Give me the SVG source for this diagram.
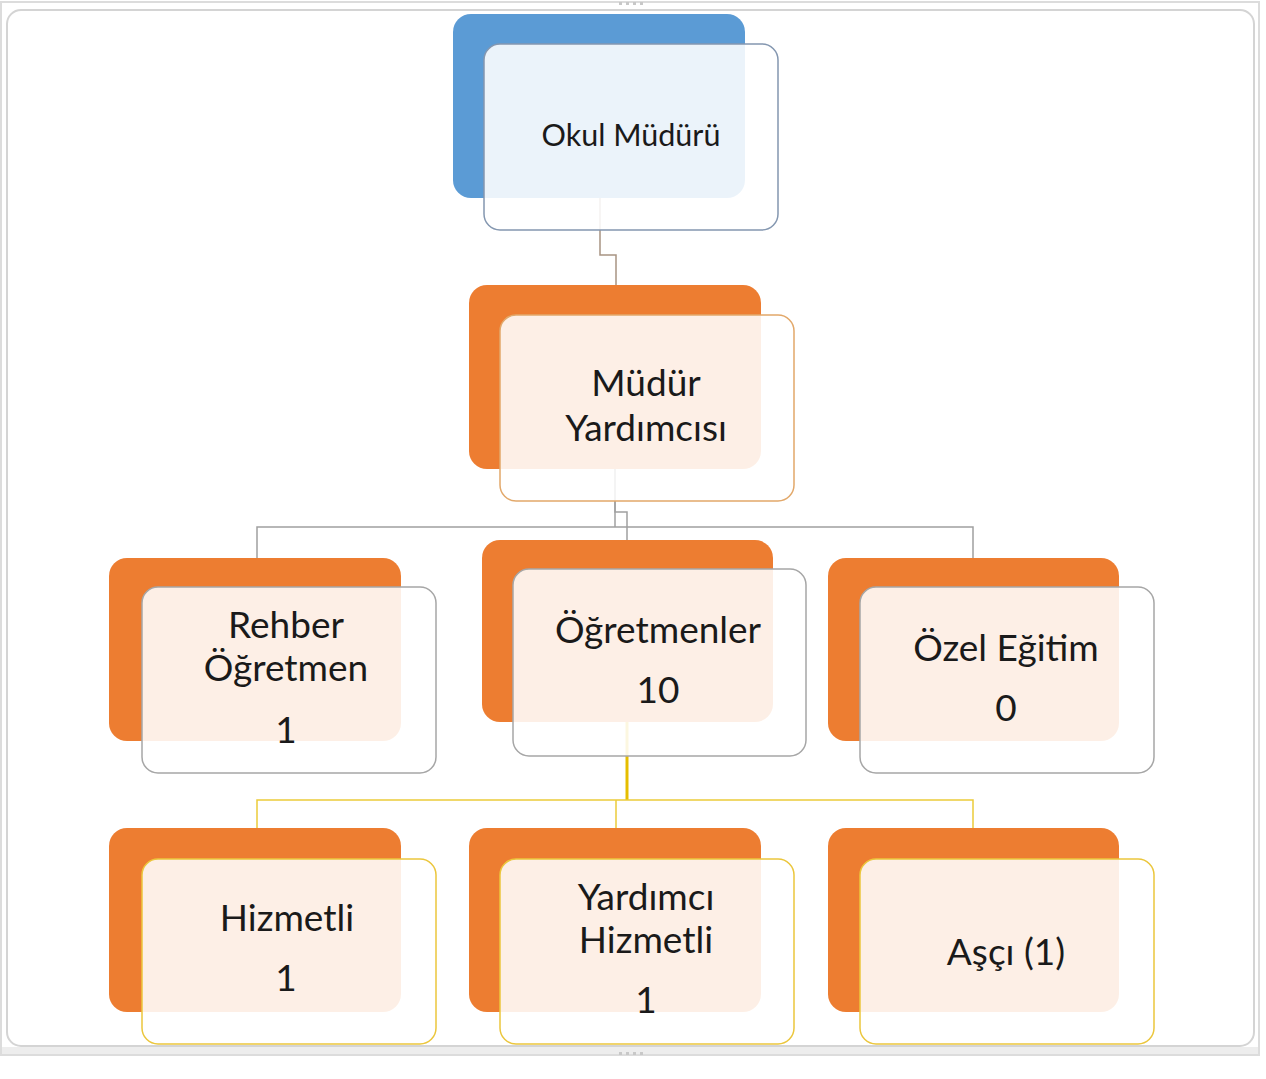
<svg xmlns="http://www.w3.org/2000/svg" width="1266" height="1079" viewBox="0 0 1266 1079">
<style>
.back-o{fill:#ED7D31}
.back-b{fill:#5B9BD5}
.front{fill:#FFFFFF;fill-opacity:0.88;stroke-width:1.5}
.f-blue{stroke:#8497B0}
.f-orange{stroke:#E2A86A}
.f-gray{stroke:#A6A6A6}
.f-yellow{stroke:#EBC63C}
text{font-family:Lato,"Open Sans","Liberation Sans",sans-serif;fill:#1A1A1A;text-anchor:middle}
.t1{font-size:30.5px}
.t2{font-size:37px}
.c-gray{fill:none;stroke:#A0A0A0;stroke-width:1.5}
.c-brown{fill:none;stroke:#A89482;stroke-width:1.5}
.c-yel{fill:none;stroke:#EBCB3A;stroke-width:1.5}
.c-yel2{fill:none;stroke:#E6BE00;stroke-width:3}
</style>
<rect x="0" y="0" width="1266" height="1079" fill="#FFFFFF"/>
<g id="frame">
<rect x="1" y="2" width="1258" height="1053" fill="none" stroke="#DCDCDC" stroke-width="2"/>
<rect x="7" y="10" width="1247" height="1036" rx="14" fill="#FFFFFF" stroke="#D4D4D4" stroke-width="2"/>
<rect x="2" y="1047" width="1256" height="7" fill="#EDEDED"/>
<g fill="#C8C8C8"><rect x="619" y="2" width="3" height="3"/><rect x="626" y="2" width="3" height="3"/><rect x="633" y="2" width="3" height="3"/><rect x="640" y="2" width="3" height="3"/><rect x="619" y="1052" width="3" height="3"/><rect x="626" y="1052" width="3" height="3"/><rect x="633" y="1052" width="3" height="3"/><rect x="640" y="1052" width="3" height="3"/></g>
</g>
<g id="connectors">
<polyline class="c-brown" points="600,198 600,255 616,255 616,285"/>
<polyline class="c-gray" points="615,469 615,527"/>
<polyline class="c-gray" points="615,469 615,512 627,512 627,540"/>
<polyline class="c-gray" points="257,558 257,527 973,527 973,558"/>
<polyline class="c-yel2" points="627,722 627,800"/>
<polyline class="c-yel" points="257,828 257,800 973,800 973,828"/>
<polyline class="c-yel" points="616,800 616,828"/>
</g>
<g id="n-okul-muduru">
<rect class="back-b" x="453" y="14" width="292" height="184" rx="18"/>
<rect class="front f-blue" x="484" y="44" width="294" height="186" rx="16"/>
<text class="t1" x="631" y="146">Okul Müdürü</text>
</g>
<g id="n-mudur-yardimcisi">
<rect class="back-o" x="469" y="285" width="292" height="184" rx="18"/>
<rect class="front f-orange" x="500" y="315" width="294" height="186" rx="16"/>
<text class="t2" x="646" y="396">Müdür</text>
<text class="t2" x="646" y="441">Yardımcısı</text>
</g>
<g id="n-rehber">
<rect class="back-o" x="109" y="558" width="292" height="183" rx="18"/>
<rect class="front f-gray" x="142" y="587" width="294" height="186" rx="16"/>
<text class="t2" x="286" y="638">Rehber</text>
<text class="t2" x="286" y="681">Öğretmen</text>
<text class="t2" x="286" y="743">1</text>
</g>
<g id="n-ogretmenler">
<rect class="back-o" x="482" y="540" width="291" height="182" rx="18"/>
<rect class="front f-gray" x="513" y="569" width="293" height="187" rx="16"/>
<text class="t2" x="658" y="643">Öğretmenler</text>
<text class="t2" x="658" y="703">10</text>
</g>
<g id="n-ozel-egitim">
<rect class="back-o" x="828" y="558" width="291" height="183" rx="18"/>
<rect class="front f-gray" x="860" y="587" width="294" height="186" rx="16"/>
<text class="t2" x="1006" y="661">Özel Eğitim</text>
<text class="t2" x="1006" y="721">0</text>
</g>
<g id="n-hizmetli">
<rect class="back-o" x="109" y="828" width="292" height="184" rx="18"/>
<rect class="front f-yellow" x="142" y="859" width="294" height="185" rx="16"/>
<text class="t2" x="287" y="931">Hizmetli</text>
<text class="t2" x="286" y="991">1</text>
</g>
<g id="n-yardimci-hizmetli">
<rect class="back-o" x="469" y="828" width="292" height="184" rx="18"/>
<rect class="front f-yellow" x="500" y="859" width="294" height="185" rx="16"/>
<text class="t2" x="646" y="910">Yardımcı</text>
<text class="t2" x="646" y="953">Hizmetli</text>
<text class="t2" x="646" y="1013">1</text>
</g>
<g id="n-asci">
<rect class="back-o" x="828" y="828" width="291" height="184" rx="18"/>
<rect class="front f-yellow" x="860" y="859" width="294" height="185" rx="16"/>
<text class="t2" x="1006" y="965">Aşçı (1)</text>
</g>
</svg>
